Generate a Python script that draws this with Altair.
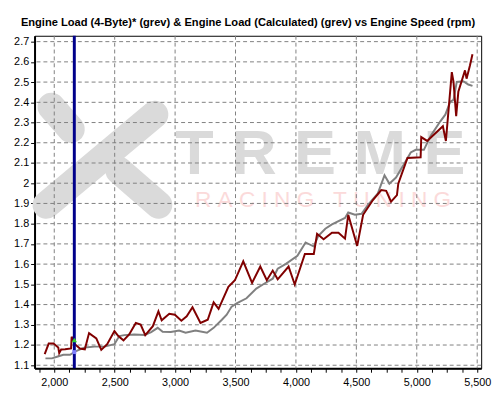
import altair as alt
import pandas as pd

# ---- data ----
red_rpm = [1921, 1954, 1994, 2033, 2041, 2057, 2090, 2139, 2144, 2171, 2212, 2253, 2288, 2348, 2389,
           2438, 2498, 2530, 2573, 2620, 2675, 2715, 2753, 2816, 2862, 2889, 2952, 2998, 3052, 3096,
           3144, 3210, 3270, 3319, 3360, 3441, 3495, 3564, 3637, 3705, 3759, 3808, 3849, 3939, 3990,
           4074, 4148, 4175, 4229, 4298, 4352, 4406, 4433, 4507, 4556, 4637, 4706, 4747, 4787, 4836,
           4847, 4923, 5032, 5037, 5086, 5216, 5241, 5290, 5304, 5326, 5344, 5399, 5412, 5440, 5461]
red_load = [1.155, 1.207, 1.207, 1.188, 1.160, 1.178, 1.179, 1.183, 1.241, 1.204, 1.183, 1.179, 1.259, 1.233, 1.176,
            1.204, 1.269, 1.244, 1.223, 1.252, 1.309, 1.301, 1.249, 1.293, 1.366, 1.322, 1.354, 1.350, 1.320, 1.342,
            1.387, 1.309, 1.325, 1.411, 1.379, 1.488, 1.520, 1.614, 1.507, 1.588, 1.520, 1.568, 1.525, 1.588, 1.499,
            1.650, 1.650, 1.750, 1.723, 1.755, 1.755, 1.726, 1.844, 1.690, 1.844, 1.917, 1.966, 1.962, 1.909, 1.941,
            1.998, 2.125, 2.128, 2.228, 2.209, 2.282, 2.209, 2.549, 2.501, 2.331, 2.452, 2.558, 2.517, 2.582, 2.638]

gray_rpm = [1927, 1981, 2022, 2076, 2131, 2171, 2253, 2334, 2416, 2498, 2538, 2579, 2661, 2748, 2802,
            2856, 2897, 2965, 3033, 3087, 3169, 3264, 3319, 3387, 3427, 3468, 3509, 3591, 3672, 3740,
            3808, 3849, 3917, 4012, 4080, 4148, 4184, 4243, 4298, 4406, 4433, 4488, 4543, 4596, 4678,
            4733, 4773, 4828, 4896, 4950, 4991, 5059, 5114, 5195, 5236, 5277, 5304, 5331, 5385, 5426, 5461]
gray_load = [1.134, 1.134, 1.142, 1.152, 1.152, 1.167, 1.188, 1.192, 1.192, 1.204, 1.244, 1.249, 1.252, 1.249, 1.264,
             1.285, 1.265, 1.264, 1.272, 1.261, 1.272, 1.261, 1.285, 1.325, 1.350, 1.390, 1.406, 1.431, 1.479, 1.504,
             1.528, 1.577, 1.601, 1.641, 1.707, 1.687, 1.739, 1.775, 1.796, 1.828, 1.855, 1.844, 1.849, 1.893, 1.950,
             2.039, 1.998, 2.028, 2.096, 2.152, 2.165, 2.165, 2.233, 2.306, 2.339, 2.403, 2.412, 2.501, 2.504, 2.488, 2.481]

cursor_rpm = [2166]
cursor_red = [1.225]
cursor_gray = [1.165]

x_grid = [2000, 2500, 3000, 3500, 4000, 4500, 5000, 5500]
x_ticks = list(range(1875, 5501, 125))
y_ticks = [1.1, 1.2, 1.3, 1.4, 1.5, 1.6, 1.7, 1.8, 1.9, 2.0, 2.1, 2.2, 2.3, 2.4, 2.5, 2.6, 2.7]

title_text = "Engine Load (4-Byte)* (grev) & Engine Load (Calculated) (grev) vs Engine Speed (rpm)"
NB = "\u00a0"
wm_big = NB.join("TREME")
wm_small = NB.join("RACING") + NB * 3 + NB.join("TUNING")

FONT = "Liberation Sans"
X_DOMAIN = [1837, 5533]
Y_DOMAIN = [1.085, 2.729]
W, H = 454, 338

xs = alt.Scale(domain=X_DOMAIN, nice=False, zero=False)
ys = alt.Scale(domain=Y_DOMAIN, nice=False, zero=False)

x_axis = alt.Axis(values=x_ticks, title=None, grid=False, labelOverlap=False,
                  labelExpr="datum.value % 500 === 0 ? format(datum.value, ',') : ''",
                  labelFont=FONT, labelFontSize=11, labelColor="black", labelPadding=5,
                  tickSize=4, tickColor="black", domainColor="black", domainWidth=2)
y_axis = alt.Axis(values=y_ticks, title=None, grid=False, format=".1~f", labelOverlap=False,
                  labelFont=FONT, labelFontSize=11, labelColor="black", labelPadding=2,
                  tickSize=4, tickColor="black", domainColor="black", domainWidth=2)


def X(field):
    return alt.X(field, type="quantitative", scale=xs, axis=x_axis)


def Y(field):
    return alt.Y(field, type="quantitative", scale=ys, axis=y_axis)


red_df = pd.DataFrame({"rpm": red_rpm, "load": red_load})
gray_df = pd.DataFrame({"rpm": gray_rpm, "load": gray_load})
xg_df = pd.DataFrame({"rpm": x_grid})
yg_df = pd.DataFrame({"load": y_ticks})
cur_df = pd.DataFrame({"rpm": cursor_rpm, "r": cursor_red, "g": cursor_gray})
dummy = pd.DataFrame({"a": [0]})

# ---- watermark (decoration, pixel positions inside the plot) ----
wm_layers = []
for (x1, y1, x2, y2) in [(17, 72, 37, 95), (12, 172, 122, 80), (86, 137, 126, 172)]:
    wm_layers.append(
        alt.Chart(dummy).mark_rule(color="#dadada", strokeWidth=28, strokeCap="round").encode(
            x=alt.value(x1), y=alt.value(y1), x2=alt.value(x2), y2=alt.value(y2))
    )
wm_layers.append(
    alt.Chart(dummy).mark_text(text=wm_big, font=FONT, fontWeight="bold", fontSize=64,
                               color="#dadada", align="left", baseline="alphabetic").encode(
        x=alt.value(143), y=alt.value(141))
)
wm_layers.append(
    alt.Chart(dummy).mark_text(text=wm_small, font=FONT, fontSize=23,
                               color="#fbdada", align="left", baseline="alphabetic").encode(
        x=alt.value(163), y=alt.value(174))
)

# ---- grid ----
xgrid = alt.Chart(xg_df).mark_rule(color="#808080", strokeWidth=1, strokeDash=[4, 3]).encode(x=X("rpm"))
ygrid = alt.Chart(yg_df).mark_rule(color="#808080", strokeWidth=1, strokeDash=[4, 3]).encode(y=Y("load"))

gray_line = alt.Chart(gray_df).mark_line(color="#808080", strokeWidth=2).encode(x=X("rpm"), y=Y("load"))
red_line = alt.Chart(red_df).mark_line(color="#800000", strokeWidth=2).encode(x=X("rpm"), y=Y("load"))
cursor = alt.Chart(cur_df).mark_rule(color="#00008b", strokeWidth=3).encode(x=X("rpm"))
cur_r = alt.Chart(cur_df).mark_point(shape="triangle-up", filled=True, color="#33cc33", size=30, opacity=1).encode(
    x=X("rpm"), y=Y("r"))
cur_g = alt.Chart(cur_df).mark_point(shape="square", filled=True, color="#8080ff", size=16, opacity=1).encode(
    x=X("rpm"), y=Y("g"))

chart = alt.layer(
    *wm_layers, xgrid, ygrid, gray_line, red_line, cursor, cur_r, cur_g
).properties(
    width=W, height=H,
    autosize=alt.AutoSizeParams(type="none"),
    padding={"left": 27, "top": 25, "right": 11, "bottom": 28},
    title=alt.TitleParams(title_text, font=FONT, fontSize=11.3, fontWeight="bold", color="black",
                          anchor="middle", offset=6, dx=-10),
    background="white",
).configure_view(stroke="black", strokeWidth=1)

chart.save("out.html", embed_options={"renderer": "svg", "actions": False})
